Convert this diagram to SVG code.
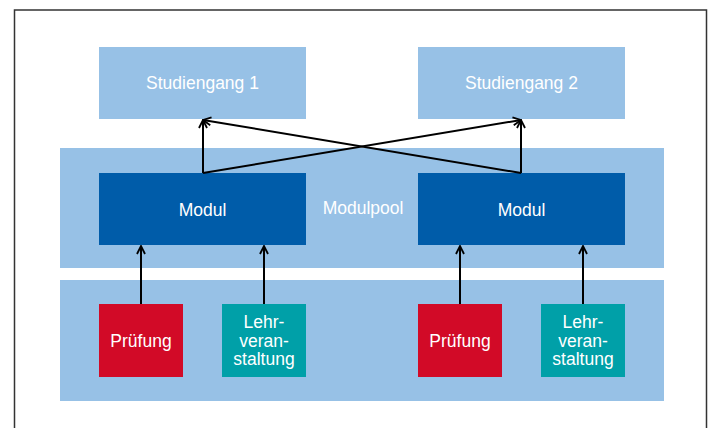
<svg xmlns="http://www.w3.org/2000/svg" width="715" height="428" viewBox="0 0 715 428">
<style>
.lt{fill:#97c1e6}
.dk{fill:#005ca9}
.rd{fill:#d20a27}
.tl{fill:#00a0a8}
text{font-family:"Liberation Sans",Arial,sans-serif;fill:#ffffff;text-anchor:middle}
.t16{font-size:17.5px}
.t15{font-size:17.5px}
.c{stroke:#000;stroke-width:2;fill:none}
</style>
<defs>
<marker id="ah" viewBox="0 0 10 10" refX="9" refY="5" markerWidth="10" markerHeight="10" markerUnits="userSpaceOnUse" orient="auto">
<path d="M1,1 L9,5 L1,9" fill="none" stroke="#000" stroke-width="1.8"/>
</marker>
</defs>
<rect x="0" y="0" width="715" height="428" fill="#fff"/>
<path d="M14.5,430 V10 H706.5 V430" fill="none" stroke="#333" stroke-width="1.5"/>
<g id="modulpool"><rect class="lt" x="60" y="148" width="604" height="120"/><text class="t16" x="363" y="214">Modulpool</text></g>
<g id="basis"><rect class="lt" x="60" y="280" width="604" height="121"/></g>
<g id="studiengang1"><rect class="lt" x="99" y="47" width="207" height="72"/><text class="t16" x="202.5" y="89">Studiengang 1</text></g>
<g id="studiengang2"><rect class="lt" x="418" y="47" width="207" height="72"/><text class="t16" x="521.5" y="89">Studiengang 2</text></g>
<g id="modul1"><rect class="dk" x="99" y="173" width="207" height="72"/><text class="t16" x="202.5" y="216">Modul</text></g>
<g id="modul2"><rect class="dk" x="418" y="173" width="207" height="72"/><text class="t16" x="521.5" y="216">Modul</text></g>
<g id="pruefung1"><rect class="rd" x="99" y="304" width="84" height="73"/><text class="t16" x="141" y="347">Prüfung</text></g>
<g id="lehr1"><rect class="tl" x="222" y="304" width="84" height="73"/><text class="t15"><tspan x="264" y="328">Lehr-</tspan><tspan x="264" y="346.5">veran-</tspan><tspan x="264" y="365">staltung</tspan></text></g>
<g id="pruefung2"><rect class="rd" x="418" y="304" width="84" height="73"/><text class="t16" x="460" y="347">Prüfung</text></g>
<g id="lehr2"><rect class="tl" x="541" y="304" width="84" height="73"/><text class="t15"><tspan x="583" y="328">Lehr-</tspan><tspan x="583" y="346.5">veran-</tspan><tspan x="583" y="365">staltung</tspan></text></g>
<g id="connectors">
<path class="c" d="M141,304 V246" marker-end="url(#ah)"/>
<path class="c" d="M264,304 V246" marker-end="url(#ah)"/>
<path class="c" d="M460,304 V246" marker-end="url(#ah)"/>
<path class="c" d="M583,304 V246" marker-end="url(#ah)"/>
<path class="c" d="M203,173 V120" marker-end="url(#ah)"/>
<path class="c" d="M521,173 V120" marker-end="url(#ah)"/>
<path class="c" d="M203,173 L521,120" marker-end="url(#ah)"/>
<path class="c" d="M521,173 L203,120" marker-end="url(#ah)"/>
</g>
</svg>
